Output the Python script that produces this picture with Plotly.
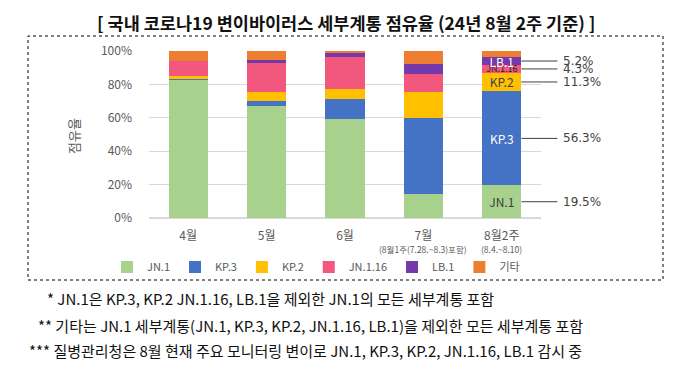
import plotly.graph_objects as go

categories = ["4월", "5월", "6월", "7월", "8월2주"]
sublabels = ["", "", "", "(8월1주(7.28.~8.3)포함)", "(8.4.~8.10)"]
series_names = ["JN.1", "KP.3", "KP.2", "JN.1.16", "LB.1", "기타"]
jn1 = [83.0, 67.0, 59.3, 14.4, 19.5]
kp3 = [0.3, 2.8, 12.2, 45.7, 56.3]
kp2 = [1.5, 5.6, 5.8, 15.6, 11.3]
jn116 = [9.0, 17.6, 19.2, 10.6, 4.3]
lb1 = [0.0, 1.6, 2.4, 5.8, 5.2]
etc = [6.2, 5.4, 1.1, 7.9, 3.4]
y_ticks = [0, 20, 40, 60, 80, 100]
y_tick_labels = ["0%", "20%", "40%", "60%", "80%", "100%"]
title_text = "[ 국내 코로나19 변이바이러스 세부계통 점유율 (24년 8월 2주 기준) ]"
y_title = "점유율"
footnotes = [
    "* JN.1은 KP.3, KP.2 JN.1.16, LB.1을 제외한 JN.1의 모든 세부계통 포함",
    "** 기타는 JN.1 세부계통(JN.1, KP.3, KP.2, JN.1.16, LB.1)을 제외한 모든 세부계통 포함",
    "*** 질병관리청은 8월 현재 주요 모니터링 변이로 JN.1, KP.3, KP.2, JN.1.16, LB.1 감시 중",
]
labelled_series = ["JN.1", "KP.3", "KP.2", "JN.1.16", "LB.1"]

series_values = [jn1, kp3, kp2, jn116, lb1, etc]
colors = ["#A9D18E", "#4472C4", "#FFC000", "#F2587E", "#7539AC", "#ED7D31"]
inside_text_colors = ["#404040", "#FFFFFF", "#404040", "#262626", "#FFFFFF", "#404040"]
inside_text_sizes = [12, 12, 12, 9, 12, 12]

FONT = "Noto Sans CJK KR, Noto Sans, sans-serif"
OFF = 8  # page body margin
W, H = 679 - OFF, 371 - OFF
PLOT_L, PLOT_R, PLOT_T, PLOT_B = 149, 541, 51, 218  # reference pixel frame
L, T = PLOT_L - OFF, PLOT_T - OFF
R = 679 - PLOT_R
B = 371 - PLOT_B
PW, PH = PLOT_R - PLOT_L, PLOT_B - PLOT_T
BARGAP = 0.5

def px_x(x):
    return (x - PLOT_L) / PW

def px_y(y):
    return (PLOT_B - y) / PH

fig = go.Figure()
last = len(categories) - 1
for name, vals, col, tcol, tsz in zip(series_names, series_values, colors,
                                       inside_text_colors, inside_text_sizes):
    texts = ["" for _ in categories]
    if name in labelled_series:
        texts[last] = name
    fig.add_trace(go.Bar(
        x=categories, y=vals, name=name,
        marker=dict(color=col, line=dict(width=0)),
        text=texts, textposition="inside", insidetextanchor="middle",
        textangle=0, constraintext="none",
        textfont=dict(color=tcol, size=tsz, family=FONT),
        hoverinfo="skip",
    ))

annotations = []
cum = 0.0
for name, vals in zip(series_names, series_values):
    v = vals[last]
    mid = cum + v / 2
    cum += v
    if name not in labelled_series:
        continue
    annotations.append(dict(
        x=last + (1 - BARGAP) / 2, y=mid, xref="x", yref="y",
        text=f"{v}%", showarrow=True, arrowhead=0, arrowwidth=1,
        arrowcolor="#404040", ax=36, ay=0, axref="pixel", ayref="pixel",
        xanchor="left", yanchor="middle", borderpad=5,
        font=dict(size=12, color="#404040", family="DejaVu Sans, " + FONT),
    ))

for i, s in enumerate(sublabels):
    if s:
        annotations.append(dict(
            x=i, y=px_y(249), xref="x", yref="paper", text=s, showarrow=False,
            xanchor="center", yanchor="middle",
            font=dict(size=8.5, color="#595959", family=FONT),
        ))

annotations.append(dict(
    x=px_x(346), y=px_y(22), xref="paper", yref="paper", text=f"<b>{title_text}</b>",
    showarrow=False, xanchor="center", yanchor="middle",
    font=dict(size=17.5, color="#111111", family=FONT),
))

annotations.append(dict(
    x=px_x(73), y=px_y(136), xref="paper", yref="paper", text=y_title,
    showarrow=False, textangle=-90, xanchor="center", yanchor="middle",
    font=dict(size=13, color="#595959", family=FONT),
))

foot_x = [45, 36, 27]
foot_y = [298, 325, 350]
for t, fx, fy in zip(footnotes, foot_x, foot_y):
    annotations.append(dict(
        x=px_x(fx), y=px_y(fy), xref="paper", yref="paper", text=t,
        showarrow=False, xanchor="left", yanchor="middle",
        font=dict(size=15, color="#111111", family=FONT),
    ))

shapes = [dict(
    type="rect", xref="paper", yref="paper",
    x0=px_x(28), x1=px_x(663), y0=px_y(280), y1=px_y(36),
    line=dict(color="#000000", width=1, dash="dot"), fillcolor="rgba(0,0,0,0)",
    layer="below",
)]

fig.update_layout(
    width=W, height=H,
    margin=dict(l=L, r=R, t=T, b=B, pad=0, autoexpand=False),
    barmode="stack", bargap=BARGAP,
    paper_bgcolor="white", plot_bgcolor="white",
    font=dict(family=FONT, color="#595959"),
    showlegend=True,
    legend=dict(orientation="h", x=px_x(107), y=px_y(267), xanchor="left",
                yanchor="middle", font=dict(size=11, color="#595959", family=FONT),
                traceorder="normal", itemwidth=30, bgcolor="rgba(0,0,0,0)"),
    xaxis=dict(type="category", range=[-0.5, len(categories) - 0.5],
               showgrid=False, showline=False, ticks="",
               tickfont=dict(size=12, color="#595959", family=FONT),
               ticklabelstandoff=9, fixedrange=True),
    yaxis=dict(range=[0, 100], tickmode="array", tickvals=y_ticks, ticktext=y_tick_labels,
               showgrid=True, gridcolor="#D9D9D9", gridwidth=1,
               zeroline=True, zerolinecolor="#D9D9D9", showline=False, ticks="",
               tickfont=dict(size=12, color="#595959", family=FONT),
               ticklabelstandoff=16, fixedrange=True),
    annotations=annotations,
    shapes=shapes,
)

fig.write_html("out.html")
